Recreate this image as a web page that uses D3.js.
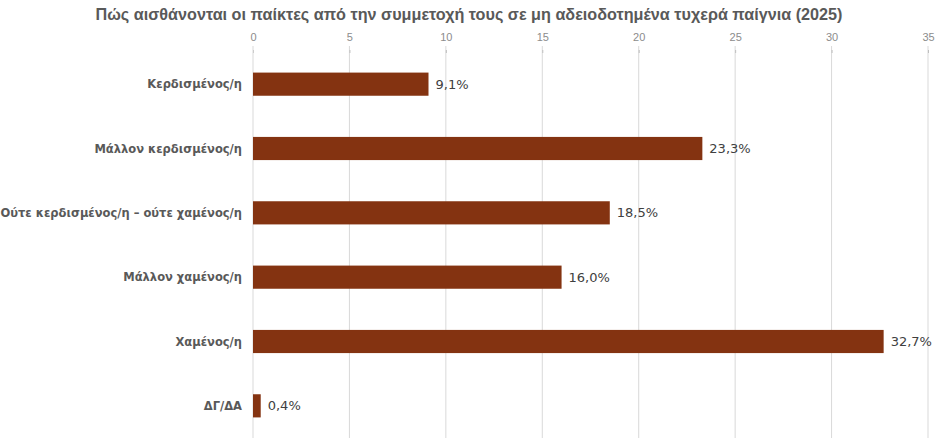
<!DOCTYPE html>
<html>
<head>
<meta charset="utf-8">
<script src="https://cdn.jsdelivr.net/npm/d3@7"></script>
<style>
  body { margin: 0; background: #fff; }
</style>
</head>
<body>
<div id="chart"></div>
<script>
const categories = ['Κερδισμένος/η', 'Μάλλον κερδισμένος/η', 'Ούτε κερδισμένος/η – ούτε χαμένος/η',
                    'Μάλλον χαμένος/η', 'Χαμένος/η', 'ΔΓ/ΔΑ'];
const values = [9.1, 23.3, 18.5, 16.0, 32.7, 0.4];
const ticks = [0, 5, 10, 15, 20, 25, 30, 35];
const title = 'Πώς αισθάνονται οι παίκτες από την συμμετοχή τους σε μη αδειοδοτημένα τυχερά παίγνια (2025)';

const w = 945;
const h = 446;
const m = {top: 52, right: 17, bottom: 8, left: 253};

const svg = d3.select('#chart').append('svg')
              .attr('width', w)
              .attr('height', h);

const x = d3.scaleLinear()
            .domain([0, 35])
            .range([m.left, w - m.right]);

const y = d3.scaleBand()
            .domain(categories)
            .range([m.top, h - m.bottom])
            .paddingInner(0.64)
            .paddingOuter(0.32);

svg.append('text')
   .attr('x', 469)
   .attr('y', 20)
   .attr('text-anchor', 'middle')
   .style('font-family', 'Liberation Sans, Arial, sans-serif')
   .style('font-weight', 'bold')
   .style('font-size', '16.2px')
   .style('fill', '#595959')
   .text(title);

// gridlines
svg.selectAll('line.grid')
   .data(ticks.slice(1))
   .enter()
   .append('line')
   .attr('class', 'grid')
   .attr('x1', d => x(d))
   .attr('x2', d => x(d))
   .attr('y1', m.top - 6)
   .attr('y2', h - m.bottom)
   .style('stroke', '#d9d9d9')
   .style('stroke-width', 1);

// top axis
const axis = d3.axisTop(x)
               .tickValues(ticks)
               .tickSize(3)
               .tickFormat(d3.format('d'));

const ax = svg.append('g')
              .attr('transform', `translate(0,${m.top})`)
              .call(axis);
ax.select('.domain').remove();
ax.selectAll('.tick line').style('stroke', '#bfbfbf').attr('transform', 'translate(0,1)');
ax.selectAll('.tick text')
  .attr('dy', '0')
  .attr('y', -11)
  .style('font-family', 'Liberation Sans Narrow, Liberation Sans, Arial, sans-serif')
  .style('font-size', '11px')
  .style('fill', '#8c8c8c');

// left axis line
svg.append('line')
   .attr('x1', x(0))
   .attr('x2', x(0))
   .attr('y1', m.top - 6)
   .attr('y2', h - m.bottom)
   .style('stroke', '#d9d9d9');

// bars
svg.selectAll('rect.bar')
   .data(values)
   .enter()
   .append('rect')
   .attr('class', 'bar')
   .attr('x', x(0))
   .attr('y', (d, i) => y(categories[i]))
   .attr('width', d => x(d) - x(0))
   .attr('height', y.bandwidth())
   .style('fill', '#843311');

// value labels
svg.selectAll('text.val')
   .data(values)
   .enter()
   .append('text')
   .attr('class', 'val')
   .attr('x', d => x(d) + 7)
   .attr('y', (d, i) => y(categories[i]) + y.bandwidth() / 2)
   .attr('dy', '0.35em')
   .style('font-family', 'DejaVu Sans, Verdana, sans-serif')
   .style('font-size', '13px')
   .style('fill', '#404040')
   .text(d => d3.format('.1f')(d).replace('.', ',') + '%');

// category labels
svg.selectAll('text.cat')
   .data(categories)
   .enter()
   .append('text')
   .attr('class', 'cat')
   .attr('x', 242)
   .attr('y', d => y(d) + y.bandwidth() / 2)
   .attr('dy', '0.35em')
   .attr('text-anchor', 'end')
   .style('font-family', 'DejaVu Sans, Verdana, sans-serif')
   .style('font-weight', 'bold')
   .style('font-size', '11.5px')
   .style('fill', '#595959')
   .text(d => d);
</script>
</body>
</html>
